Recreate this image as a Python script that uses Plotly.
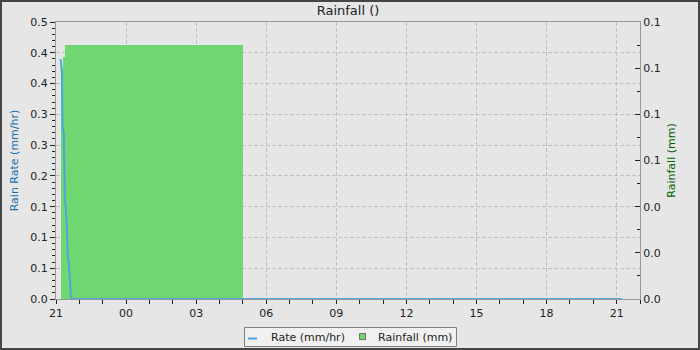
import pandas as pd
import plotly.graph_objects as go

# ---------------- data ----------------
rate_times = ["2024-05-01 21:12", "2024-05-01 21:15", "2024-05-01 21:17", "2024-05-01 21:20",
              "2024-05-01 21:23", "2024-05-01 21:25", "2024-05-01 21:28", "2024-05-01 21:30",
              "2024-05-01 21:33", "2024-05-01 21:35", "2024-05-01 21:39", "2024-05-02 21:14"]
rate_values = [0.433, 0.410, 0.310, 0.300, 0.177, 0.166, 0.132, 0.081, 0.065, 0.047, 0.0, 0.0]

rain_start = ["2024-05-01 21:13", "2024-05-01 21:19", "2024-05-01 21:22"]
rain_end = ["2024-05-01 21:19", "2024-05-01 21:22", "2024-05-02 05:00"]
rain_values = [0.100, 0.105, 0.110]

rate_tickvals = [0.0, 0.0556, 0.1111, 0.1667, 0.2222, 0.2778, 0.3333, 0.3889, 0.4444, 0.5]
rate_ticktext = ["0.0", "0.1", "0.1", "0.1", "0.2", "0.3", "0.3", "0.4", "0.4", "0.5"]
rain_tickvals = [0.0, 0.02, 0.04, 0.06, 0.08, 0.10, 0.12]
rain_ticktext = ["0.0", "0.0", "0.0", "0.1", "0.1", "0.1", "0.1"]

x_range = ["2024-05-01 21:00", "2024-05-02 22:00"]

# ---------------- layout constants ----------------
W, H = 700, 350
L, R, T, B = 56, 60, 22, 51
PW, PH = W - L - R, H - T - B
FONT = "DejaVu Sans"
BG = "#e6e6e6"
RATE_COLOR = "#4ba6de"
RAIN_COLOR = "#70d670"


def px(x):
    return (x - L) / PW


def py(y):
    return (H - B - y) / PH


widths = [(pd.Timestamp(e) - pd.Timestamp(s)).total_seconds() * 1000 for s, e in zip(rain_start, rain_end)]

fig = go.Figure()
fig.add_trace(go.Bar(
    x=rain_start, y=rain_values, width=widths, offset=0,
    marker=dict(color=RAIN_COLOR, line=dict(width=0)),
    name="Rainfall (mm)", yaxis="y", showlegend=False,
))
fig.add_trace(go.Scatter(
    x=rate_times, y=rate_values, mode="lines",
    line=dict(color=RATE_COLOR, width=2),
    name="Rate (mm/hr)", yaxis="y2", showlegend=False,
))

grid = dict(gridcolor="#c0c0c0", griddash="4px,2px", gridwidth=1)

fig.update_layout(
    width=W, height=H,
    margin=dict(l=L, r=R, t=T, b=B),
    paper_bgcolor=BG, plot_bgcolor=BG,
    font=dict(family=FONT, size=11, color="#222222"),
    title=dict(text="Rainfall ()", x=0.5, xanchor="center", xref="paper",
               y=1 - 10 / H, yref="container", yanchor="middle",
               font=dict(size=13, color="#222222")),
    bargap=0,
    xaxis=dict(
        type="date", range=x_range, tickformat="%H",
        tickmode="linear", tick0="2024-05-01 21:00", dtick=3 * 3600000,
        ticks="outside", ticklen=4, tickcolor="#222222",
        minor=dict(tickmode="linear", tick0="2024-05-01 21:00", dtick=3600000,
                   ticks="outside", ticklen=4, tickcolor="#222222", showgrid=False),
        showline=True, linecolor="#999999", linewidth=1, mirror=True,
        showgrid=True, zeroline=False, **grid,
    ),
    yaxis=dict(
        range=[0, 0.12], side="right",
        tickmode="array", tickvals=rain_tickvals, ticktext=rain_ticktext,
        ticks="inside", ticklen=5, tickcolor="#222222",
        minor=dict(tickmode="linear", tick0=0, dtick=0.01, ticks="inside", ticklen=3,
                   tickcolor="#222222", showgrid=False),
        showline=True, linecolor="#999999", linewidth=1,
        showgrid=False, zeroline=False,
        title=dict(text="Rainfall (mm)", font=dict(size=11, color="#006400"), standoff=7),
    ),
    yaxis2=dict(
        range=[0, 0.5], side="left", overlaying="y",
        tickmode="array", tickvals=rate_tickvals, ticktext=rate_ticktext,
        ticks="outside", ticklen=5, tickcolor="#222222",
        minor=dict(tickmode="linear", tick0=0, dtick=0.5 / 45, ticks="outside", ticklen=3,
                   tickcolor="#222222", showgrid=False),
        showline=True, linecolor="#999999", linewidth=1,
        showgrid=True, zeroline=False, **grid,
        title=dict(text="Rain Rate (mm/hr)", font=dict(size=11, color="#1a6fae"), standoff=9),
    ),
)

# custom legend box
shapes = [
    dict(type="rect", xref="paper", yref="paper", x0=px(244.5), x1=px(456.5), y0=py(327.5), y1=py(346.5),
         fillcolor="#f0f0f0", line=dict(color="#808080", width=1), layer="above"),
    dict(type="line", xref="paper", yref="paper", x0=px(248), x1=px(257), y0=py(338.5), y1=py(338.5),
         line=dict(color=RATE_COLOR, width=2), layer="above"),
    dict(type="rect", xref="paper", yref="paper", x0=px(359.5), x1=px(365.5), y0=py(333.5), y1=py(339.5),
         fillcolor=RAIN_COLOR, line=dict(color="#707070", width=1), layer="above"),
    # outer frame
    dict(type="rect", xref="paper", yref="paper", x0=px(1), x1=px(699), y0=py(1), y1=py(349),
         line=dict(color="#454545", width=2), fillcolor="rgba(0,0,0,0)", layer="above"),
]
annotations = [
    dict(text="Rate (mm/hr)", xref="paper", yref="paper", x=px(269), y=py(337), xanchor="left",
         yanchor="middle", showarrow=False, font=dict(size=11, color="#222222")),
    dict(text="Rainfall (mm)", xref="paper", yref="paper", x=px(376), y=py(337), xanchor="left",
         yanchor="middle", showarrow=False, font=dict(size=11, color="#222222")),
]
fig.update_layout(shapes=shapes, annotations=annotations)

fig.write_html("out.html")
